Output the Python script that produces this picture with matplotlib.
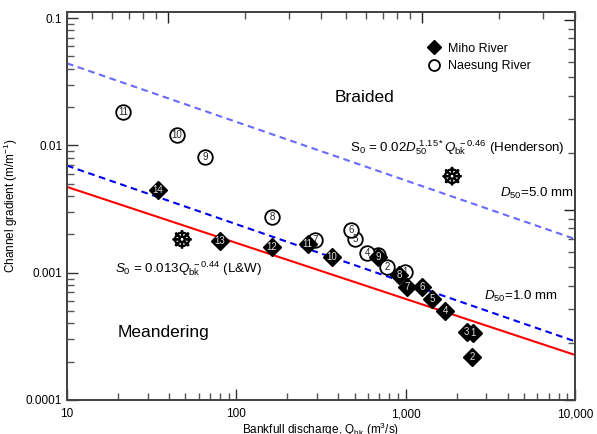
import matplotlib
matplotlib.use("Agg")
import matplotlib.pyplot as plt
import matplotlib.patheffects as pe
import numpy as np
from matplotlib.ticker import LogLocator, FixedLocator, NullFormatter

plt.rcParams['font.family'] = ['Liberation Sans', 'DejaVu Sans']
plt.rcParams['mathtext.fontset'] = 'custom'
plt.rcParams['mathtext.rm'] = 'Liberation Sans'
plt.rcParams['mathtext.it'] = 'Liberation Sans:italic'
plt.rcParams['mathtext.bf'] = 'Liberation Sans:bold'

# ---- data ----
miho_id = [1, 2, 3, 4, 5, 6, 7, 8, 9, 10, 11, 12, 13, 14]
miho_Q = [2513, 2457, 2297, 1710, 1439, 1255, 1015, 914, 690, 366, 264, 162, 80.1, 34.3]
miho_S = [0.000338, 0.000219, 0.000344, 0.000500, 0.000622, 0.000768, 0.000768,
          0.000959, 0.00132, 0.00134, 0.00169, 0.00160, 0.00177, 0.00446]

nae_id = [1, 2, 3, 4, 5, 6, 7, 8, 9, 10, 11]
nae_Q = [985, 780, 690, 594, 503, 474, 292, 163, 65.3, 44.5, 21.5]
nae_S = [0.00101, 0.00110, 0.00137, 0.00142, 0.00183, 0.00216, 0.00181,
         0.00275, 0.00806, 0.0121, 0.0182]

wheel_Q = [1879, 47.8]
wheel_S = [0.00555, 0.00177]

# curve parameters
lw_coef, lw_exp = 0.013, -0.44
hen_coef, hen_dexp, hen_qexp = 0.02, 1.15, -0.46
d50_values = [1.0, 5.0]

xticks = [10, 100, 1000, 10000]
xticklabels = ["10", "100", "1,000", "10,000"]
yticks = [0.0001, 0.001, 0.01, 0.1]
yticklabels = ["0.0001", "0.001", "0.01", "0.1"]

# ---- figure ----
fig = plt.figure(figsize=(5.97, 4.34), dpi=100)
ax = fig.add_axes([67/597, 1-400/434, (575-67)/597, (400-12)/434])
ax.set_xscale('log')
ax.set_yscale('log')
ax.set_xlim(10, 10000)
ax.set_ylim(0.0001, 0.1117)

Qline = np.logspace(1, 4, 200)
ax.plot(Qline, lw_coef * Qline**lw_exp, color='#ff0000', lw=1.5, zorder=2)
ax.plot(Qline, hen_coef * d50_values[0]**hen_dexp * Qline**hen_qexp,
        color='#0000ee', lw=1.5, ls=(0, (3.2, 2.2)), zorder=2)
ax.plot(Qline, hen_coef * d50_values[1]**hen_dexp * Qline**hen_qexp,
        color='#6a6aff', lw=1.5, ls=(0, (3.2, 2.2)), zorder=2)

ax.plot(nae_Q, nae_S, 'o', ms=10.5, mfc='white', mec='black', mew=1.3,
        ls='none', zorder=3, label='Naesung River')
for i, q, s in zip(nae_id, nae_Q, nae_S):
    ax.text(q, s, str(i), fontsize=7, ha='center', va='center', color='#222222', zorder=4)

ax.plot(miho_Q, miho_S, 'D', ms=9, mfc='black', mec='black', ls='none',
        zorder=5, label='Miho River')
for i, q, s in zip(miho_id, miho_Q, miho_S):
    ax.text(q, s, str(i), fontsize=7, ha='center', va='center', color='#dddddd', zorder=6)

for q, s in zip(wheel_Q, wheel_S):
    ax.text(q, s, "\u2638", fontsize=17.5, ha='center', va='center', color='black',
            family='DejaVu Sans', zorder=6,
            path_effects=[pe.withStroke(linewidth=0.6, foreground='black')])

# legend
h, l = ax.get_legend_handles_labels()
leg = ax.legend([h[1], h[0]], [l[1], l[0]], loc='upper right', frameon=False,
                fontsize=9, bbox_to_anchor=(0.935, 0.95), handletextpad=0.6,
                labelspacing=0.45, markerscale=0.75, handlelength=1.0)

# annotations
ax.text(575, 0.0240, "Braided", fontsize=12.5, ha='center', va='center')
ax.text(36.9, 0.000336, "Meandering", fontsize=12.5, ha='center', va='center')
ax.text(470, 0.00954, r"$\mathrm{S}_0$ = 0.02$\mathit{D}_{50}^{\ 1.15*}\mathit{Q}_{\mathrm{bk}}^{\ -0.46}$ (Henderson)",
        fontsize=9.6, ha='left', va='center')
ax.text(3614, 0.00423, r"$\mathit{D}_{50}$=5.0 mm", fontsize=9.6, ha='left', va='center')
ax.text(2904, 0.000656, r"$\mathit{D}_{50}$=1.0 mm", fontsize=9.6, ha='left', va='center')
ax.text(19.2, 0.00108, r"$\mathit{S}_0$ = 0.013$\mathit{Q}_{\mathrm{bk}}^{\ -0.44}$ (L&W)",
        fontsize=9.6, ha='left', va='center')

# ticks
ax.set_xticks(xticks)
ax.set_xticklabels(xticklabels)
ax.set_yticks(yticks)
ax.set_yticklabels(yticklabels)
ax.xaxis.set_minor_locator(LogLocator(base=10, subs=np.arange(2, 10)))
ax.yaxis.set_minor_locator(LogLocator(base=10, subs=np.arange(2, 10)))
ax.xaxis.set_minor_formatter(NullFormatter())
ax.yaxis.set_minor_formatter(NullFormatter())
ax.tick_params(which='major', direction='in', length=8, width=1, color='#333333',
               labelsize=8.5, top=False, right=False)
ax.tick_params(which='minor', direction='in', length=5, width=1, color='#555555',
               top=False, right=False)
ax.tick_params(axis='x', pad=6)

for sp in ax.spines.values():
    sp.set_color('#444444')
    sp.set_linewidth(1.2)

ax.set_ylabel("Channel gradient (m/m$^{-1}$)", fontsize=8.5, labelpad=4)
ax.set_xlabel("Bankfull discharge, Q$_{\\mathrm{bk}}$ (m$^3$/s)", fontsize=8.5, labelpad=0)

# secondary top axis
axt = ax.twiny()
axt.set_xscale('log')
axt.set_xlim(4, 400)
axt.xaxis.set_major_locator(FixedLocator([10, 100]))
axt.xaxis.set_minor_locator(LogLocator(base=10, subs=np.arange(2, 10)))
axt.xaxis.set_major_formatter(NullFormatter())
axt.xaxis.set_minor_formatter(NullFormatter())
axt.tick_params(which='major', direction='in', length=8, width=1, color='#222222')
axt.tick_params(which='minor', direction='in', length=5, width=1, color='#555555')

# secondary right axis
axr = ax.twinx()
axr.set_yscale('log')
axr.set_ylim(1, 110)
axr.yaxis.set_major_locator(FixedLocator([1, 10, 100]))
axr.yaxis.set_minor_locator(LogLocator(base=10, subs=np.arange(2, 10)))
axr.yaxis.set_major_formatter(NullFormatter())
axr.yaxis.set_minor_formatter(NullFormatter())
axr.tick_params(which='major', direction='in', length=8, width=1, color='#222222')
axr.tick_params(which='minor', direction='in', length=5, width=1, color='#555555')
for a in (axt, axr):
    for sp in a.spines.values():
        sp.set_color('#444444')
        sp.set_linewidth(1.2)

fig.savefig("out.png", dpi=100)
